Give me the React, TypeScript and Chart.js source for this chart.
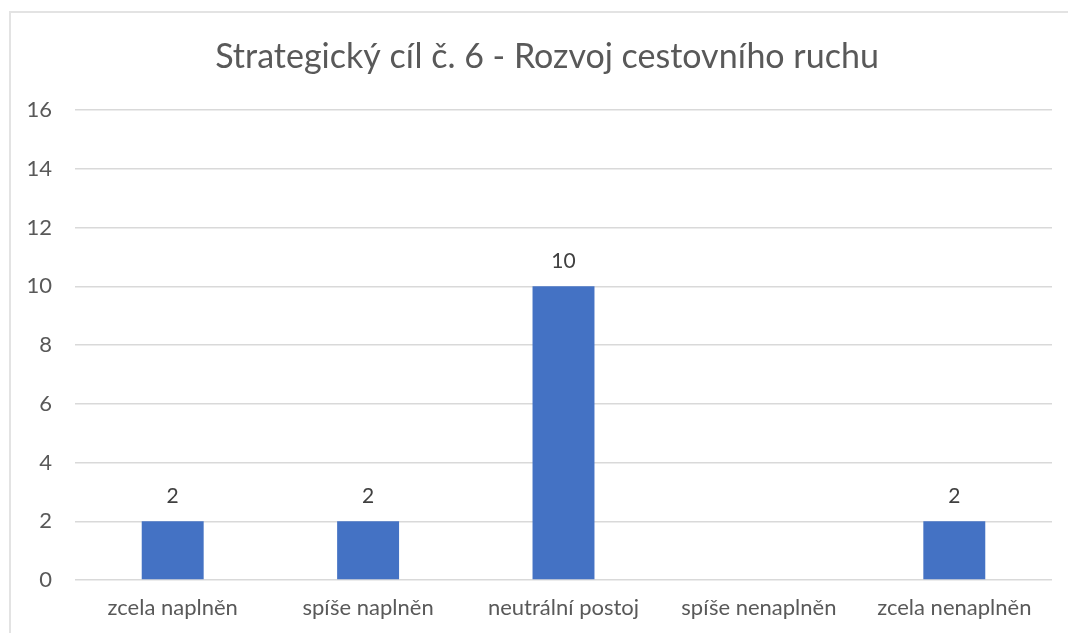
import React, { useEffect, useRef } from "react";
import { Chart, registerables } from "chart.js";

Chart.register(...registerables);

const title = "Strategický cíl č. 6 - Rozvoj cestovního ruchu";
const categories = ["zcela naplněn", "spíše naplněn", "neutrální postoj", "spíše nenaplněn", "zcela nenaplněn"];
const values: (number | null)[] = [2, 2, 10, null, 2];
const yMin = 0;
const yMax = 16;
const yStep = 2;

const FONT = "Lato, 'Open Sans', sans-serif";

const dataLabelPlugin = {
  id: "dataLabels",
  afterDatasetsDraw(chart: any) {
    const ctx = chart.ctx;
    const meta = chart.getDatasetMeta(0);
    ctx.save();
    ctx.font = `21px ${FONT}`;
    ctx.fillStyle = "#404040";
    ctx.textAlign = "center";
    ctx.textBaseline = "middle";
    meta.data.forEach((bar: any, i: number) => {
      const v = values[i];
      if (v === null || v === undefined) return;
      ctx.fillText(String(v), bar.x, bar.y - 25);
    });
    ctx.restore();
  },
};

const titlePlugin = {
  id: "customTitle",
  afterDraw(chart: any) {
    const ctx = chart.ctx;
    ctx.save();
    ctx.font = `34px ${FONT}`;
    ctx.fillStyle = "#595959";
    ctx.textAlign = "center";
    ctx.textBaseline = "middle";
    ctx.fillText(title, 547, 57);
    ctx.restore();
  },
};

export default function App() {
  const ref = useRef<HTMLCanvasElement | null>(null);
  useEffect(() => {
    if (!ref.current) return;
    const chart = new Chart(ref.current, {
      type: "bar",
      data: {
        labels: categories,
        datasets: [
          {
            data: values,
            backgroundColor: "#4472C4",
            barPercentage: 1,
            categoryPercentage: 0.317,
          },
        ],
      },
      options: {
        animation: false,
        responsive: false,
        maintainAspectRatio: false,
        layout: { padding: { left: 0, right: 16, top: 110, bottom: 0 } },
        plugins: {
          legend: { display: false },
          tooltip: { enabled: false },
          title: { display: false },
        },
        scales: {
          x: {
            grid: { display: false, drawTicks: false },
            border: { display: false },
            ticks: {
              color: "#595959",
              font: { family: FONT, size: 22 },
              padding: 15,
              maxRotation: 0,
              autoSkip: false,
            },
            afterFit: (s: any) => {
              s.height = 53;
            },
          },
          y: {
            min: yMin,
            max: yMax,
            grid: { color: "#d9d9d9", lineWidth: 1.5, drawTicks: false },
            border: { display: false },
            ticks: {
              stepSize: yStep,
              color: "#595959",
              font: { family: FONT, size: 22 },
              padding: 23,
            },
            afterFit: (s: any) => {
              s.width = 75;
            },
          },
        },
      },
      plugins: [dataLabelPlugin, titlePlugin],
    });
    return () => chart.destroy();
  }, []);
  return (
    <div style={{ position: "absolute", left: 0, top: 0, width: 1068, height: 633, background: "#fff", overflow: "hidden" }}>
      <div
        style={{
          position: "absolute",
          left: 9,
          top: 11,
          width: 1100,
          height: 700,
          border: "2px solid #e3e3e3",
          boxSizing: "border-box",
        }}
      />
      <canvas ref={ref} width={1068} height={633} style={{ position: "absolute", left: 0, top: 0 }} />
    </div>
  );
}
